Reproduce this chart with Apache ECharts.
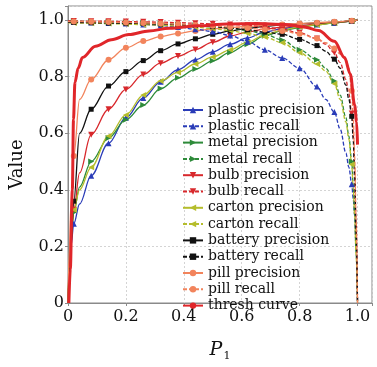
<!DOCTYPE html>
<html>
<head>
<meta charset="utf-8">
<script src="https://cdn.jsdelivr.net/npm/echarts@6/dist/echarts.min.js"></script>
<style>
  html, body { margin: 0; padding: 0; background: #fff; }
  #chart { width: 377px; height: 367px; }
</style>
</head>
<body>
<div id="chart"></div>
<script>
// shared x grids (P1)
const precX = [0, 0.005, 0.01, 0.02, 0.04, 0.08, 0.14, 0.20, 0.26, 0.32, 0.38, 0.44, 0.50, 0.56, 0.62, 0.68, 0.74, 0.80, 0.86, 0.92, 0.98, 1.0]
const recX = [0, 0.02, 0.08, 0.14, 0.20, 0.26, 0.32, 0.38, 0.44, 0.50, 0.56, 0.62, 0.68, 0.74, 0.80, 0.86, 0.89, 0.92, 0.94, 0.96, 0.97, 0.98, 0.985, 0.99, 0.995, 1.0]

// precision values on precX
const plasticPrecision = [0, 0.12, 0.2, 0.28, 0.35, 0.45, 0.565, 0.655, 0.725, 0.782, 0.825, 0.86, 0.888, 0.915, 0.937, 0.958, 0.97, 0.978, 0.985, 0.99, 0.997, 1.0]
const metalPrecision = [0, 0.13, 0.22, 0.32, 0.41, 0.5, 0.583, 0.648, 0.7, 0.758, 0.796, 0.827, 0.856, 0.886, 0.915, 0.945, 0.962, 0.974, 0.983, 0.99, 0.997, 1.0]
const bulbPrecision = [0, 0.15, 0.24, 0.33, 0.46, 0.595, 0.685, 0.755, 0.808, 0.848, 0.873, 0.896, 0.922, 0.944, 0.958, 0.968, 0.975, 0.981, 0.986, 0.991, 0.997, 1.0]
const cartonPrecision = [0, 0.14, 0.23, 0.33, 0.4, 0.48, 0.59, 0.665, 0.735, 0.785, 0.815, 0.845, 0.87, 0.895, 0.922, 0.948, 0.965, 0.976, 0.984, 0.99, 0.997, 1.0]
const batteryPrecision = [0, 0.1, 0.2, 0.36, 0.6, 0.685, 0.767, 0.818, 0.857, 0.892, 0.916, 0.934, 0.95, 0.962, 0.971, 0.978, 0.983, 0.987, 0.99, 0.993, 0.997, 1.0]
const pillPrecision = [0, 0.2, 0.35, 0.52, 0.72, 0.79, 0.86, 0.902, 0.926, 0.942, 0.953, 0.962, 0.969, 0.974, 0.978, 0.982, 0.985, 0.988, 0.991, 0.994, 0.998, 1.0]

// recall values on recX
const plasticRecall = [0.993, 0.993, 0.992, 0.99, 0.988, 0.985, 0.981, 0.976, 0.968, 0.96, 0.946, 0.924, 0.895, 0.866, 0.83, 0.765, 0.72, 0.675, 0.615, 0.53, 0.48, 0.42, 0.37, 0.31, 0.2, 0]
const metalRecall = [0.996, 0.996, 0.995, 0.994, 0.992, 0.99, 0.988, 0.985, 0.982, 0.978, 0.972, 0.963, 0.95, 0.93, 0.895, 0.86, 0.83, 0.785, 0.735, 0.655, 0.59, 0.5, 0.42, 0.32, 0.18, 0]
const bulbRecall = [0.997, 0.997, 0.996, 0.996, 0.995, 0.994, 0.993, 0.991, 0.989, 0.987, 0.985, 0.982, 0.975, 0.968, 0.955, 0.935, 0.915, 0.885, 0.85, 0.79, 0.74, 0.67, 0.6, 0.48, 0.28, 0]
const cartonRecall = [0.99, 0.99, 0.989, 0.988, 0.986, 0.984, 0.982, 0.979, 0.975, 0.97, 0.963, 0.953, 0.94, 0.92, 0.885, 0.845, 0.82, 0.775, 0.72, 0.64, 0.58, 0.49, 0.41, 0.31, 0.17, 0]
const batteryRecall = [0.992, 0.992, 0.991, 0.99, 0.989, 0.988, 0.986, 0.984, 0.981, 0.977, 0.972, 0.966, 0.958, 0.95, 0.932, 0.91, 0.89, 0.862, 0.83, 0.77, 0.72, 0.66, 0.58, 0.45, 0.25, 0]
const pillRecall = [0.995, 0.995, 0.994, 0.993, 0.992, 0.99, 0.988, 0.986, 0.983, 0.98, 0.976, 0.972, 0.967, 0.962, 0.952, 0.935, 0.92, 0.9, 0.88, 0.86, 0.83, 0.75, 0.66, 0.52, 0.3, 0]

// thresh curve
const threshX = [0.003, 0.008, 0.015, 0.019, 0.024, 0.035, 0.05, 0.095, 0.15, 0.21, 0.28, 0.35, 0.45, 0.55, 0.65, 0.75, 0.82, 0.865, 0.92, 0.955, 0.975, 0.99, 0.997, 1.0]
const threshY = [0, 0.12, 0.4, 0.65, 0.78, 0.83, 0.868, 0.908, 0.931, 0.949, 0.962, 0.971, 0.98, 0.986, 0.988, 0.985, 0.975, 0.963, 0.925, 0.868, 0.81, 0.7, 0.64, 0.56]

const tickValues = [0, 0.2, 0.4, 0.6, 0.8, 1.0]

const FONT = 'DejaVu Serif'

// markers every 0.06 starting at 0.02 (like markevery)
const onMark = (x) => {
  if (x < 0.019 || x > 0.981) return false
  const k = (x - 0.02) / 0.06
  return Math.abs(k - Math.round(k)) < 1e-6
}

const curve = (name, xs, ys, color, symbol, rotate, size, dashed) => ({
  name,
  type: 'line',
  smooth: 0.35,
  smoothMonotone: 'x',
  symbol,
  symbolRotate: rotate,
  symbolSize: size,
  showSymbol: true,
  z: dashed ? 3 : 2,
  itemStyle: { color },
  lineStyle: { color, width: 1.3, type: dashed ? [4, 2] : 'solid' },
  data: xs.map((x, i) => ({ value: [x, ys[i]], symbol: onMark(x) ? symbol : 'none' })),
})

const series = [
  curve('plastic precision', precX, plasticPrecision, '#2a3cb8', 'triangle', 0, 6, false),
  curve('plastic recall', recX, plasticRecall, '#2a3cb8', 'triangle', 0, 6, true),
  curve('metal precision', precX, metalPrecision, '#2e8b3a', 'triangle', -90, 6, false),
  curve('metal recall', recX, metalRecall, '#2e8b3a', 'triangle', -90, 6, true),
  curve('bulb precision', precX, bulbPrecision, '#d8282c', 'triangle', 180, 6, false),
  curve('bulb recall', recX, bulbRecall, '#d8282c', 'triangle', 180, 6, true),
  curve('carton precision', precX, cartonPrecision, '#b5bd2c', 'triangle', 90, 6, false),
  curve('carton recall', recX, cartonRecall, '#b5bd2c', 'triangle', 90, 6, true),
  curve('battery precision', precX, batteryPrecision, '#111111', 'rect', 0, 5, false),
  curve('battery recall', recX, batteryRecall, '#111111', 'rect', 0, 5, true),
  curve('pill precision', precX, pillPrecision, '#f2845c', 'circle', 0, 6, false),
  curve('pill recall', recX, pillRecall, '#f2845c', 'circle', 0, 6, true),
  {
    name: 'thresh curve',
    type: 'line',
    smooth: 0.35,
    smoothMonotone: 'x',
    symbol: 'none',
    z: 4,
    itemStyle: { color: '#e0262a' },
    lineStyle: { color: '#e0262a', width: 3 },
    data: threshX.map((x, i) => [x, threshY[i]]),
  },
]

const tickFmt = (v) => (tickValues.some((t) => Math.abs(t - v) < 1e-9) ? (v === 0 ? '0' : v.toFixed(1)) : '')

const myChart = echarts.init(document.getElementById('chart'), null, { renderer: 'canvas' })
myChart.setOption({
  animation: false,
  backgroundColor: '#fff',
  textStyle: { fontFamily: FONT },
  grid: { left: 68, right: 5, top: 6, bottom: 53, show: true, borderColor: '#8a8a8a', borderWidth: 1 },
  legend: {
    orient: 'vertical',
    left: 177,
    top: 97,
    itemWidth: 20,
    itemHeight: 8,
    itemGap: 0.3,
    textStyle: { fontFamily: FONT, fontSize: 14, color: '#111', lineHeight: 16 },
    data: series.map((s) => s.name),
  },
  xAxis: {
    type: 'value',
    min: 0,
    max: 1.05,
    interval: 0.2,
    name: '{p|P}{s|1}',
    nameLocation: 'middle',
    nameGap: 36,
    nameTextStyle: {
      rich: {
        p: { fontFamily: FONT, fontSize: 19, fontStyle: 'italic', color: '#111' },
        s: { fontFamily: FONT, fontSize: 11, color: '#111', verticalAlign: 'bottom', padding: [12, 0, 0, 1] },
      },
    },
    axisLine: { lineStyle: { color: '#8a8a8a' } },
    axisTick: { show: true, length: 3, lineStyle: { color: '#8a8a8a' } },
    axisLabel: { fontFamily: FONT, fontSize: 16, color: '#111', margin: 6, formatter: tickFmt },
    splitLine: { show: true, lineStyle: { color: '#d4d4d4', type: [2, 2] } },
  },
  yAxis: {
    type: 'value',
    min: 0,
    max: 1.05,
    interval: 0.2,
    name: 'Value',
    nameLocation: 'middle',
    nameGap: 42,
    nameTextStyle: { fontFamily: FONT, fontSize: 18, color: '#111', padding: [0, 20, 0, 0] },
    axisLine: { lineStyle: { color: '#8a8a8a' } },
    axisTick: { show: true, length: 3, lineStyle: { color: '#8a8a8a' } },
    axisLabel: { fontFamily: FONT, fontSize: 16, color: '#111', margin: 4, formatter: tickFmt },
    splitLine: { show: true, lineStyle: { color: '#d4d4d4', type: [2, 2] } },
  },
  series,
})
</script>
</body>
</html>
